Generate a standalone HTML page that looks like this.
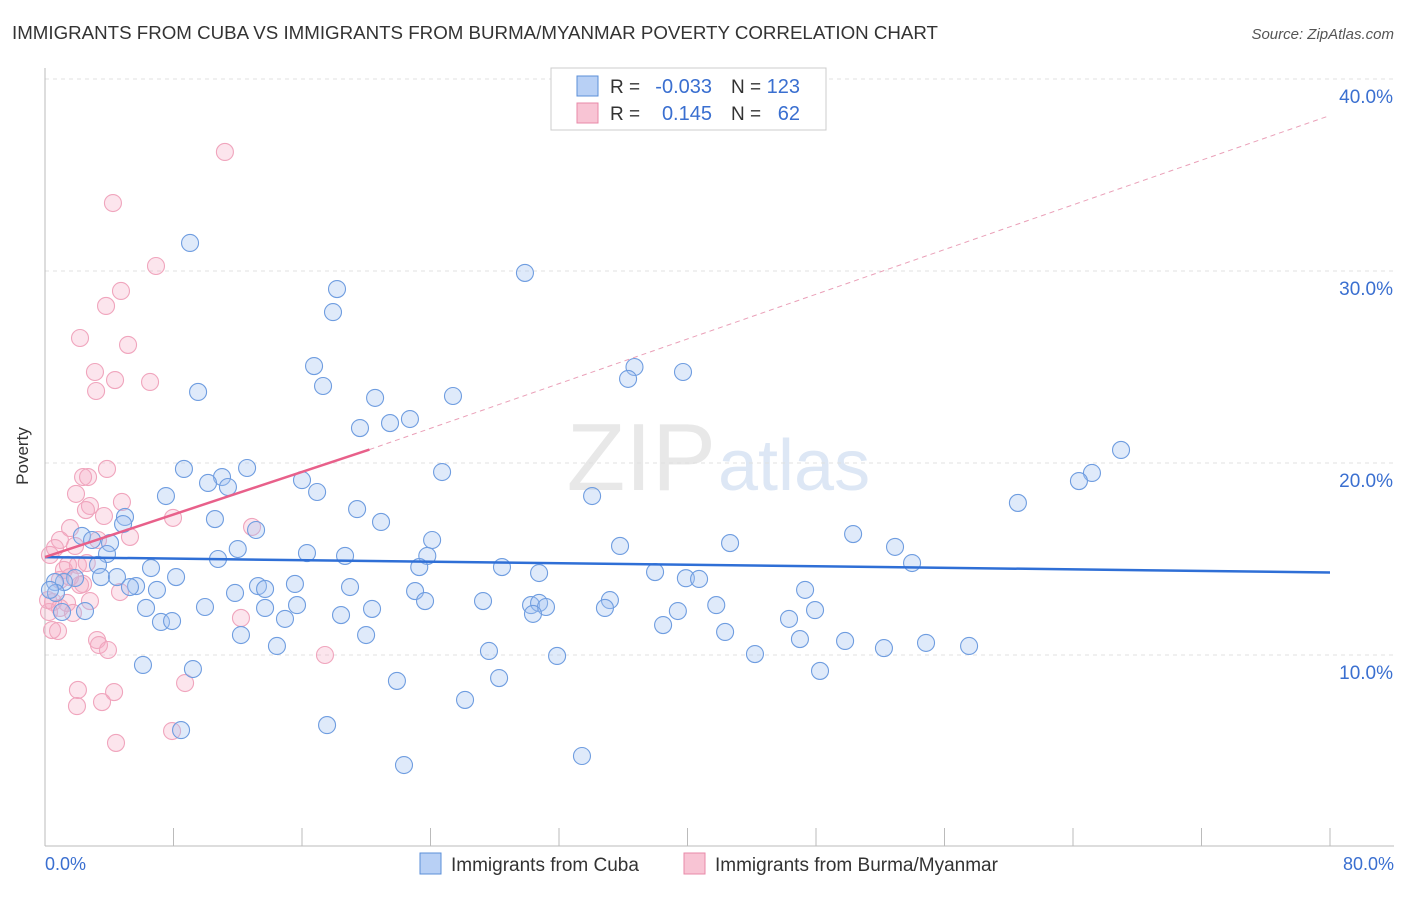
<!DOCTYPE html>
<html><head><meta charset="utf-8"><style>
body{margin:0;background:#fff;font-family:"Liberation Sans",sans-serif;}
svg text{font-family:"Liberation Sans",sans-serif;}
</style></head><body>
<svg width="1406" height="892">
<text x="12" y="39" font-size="18" fill="#333" textLength="926" lengthAdjust="spacingAndGlyphs">IMMIGRANTS FROM CUBA VS IMMIGRANTS FROM BURMA/MYANMAR POVERTY CORRELATION CHART</text>
<text x="1394" y="39" font-size="15" fill="#555" font-style="italic" text-anchor="end">Source: ZipAtlas.com</text>
<text x="716" y="490" font-size="96" fill="#e8e8e8" text-anchor="end" font-family="Liberation Serif">ZIP</text>
<text x="718" y="490" font-size="72" fill="#dde7f5">atlas</text>
<g id="grid"></g>
<g id="axes"></g>
<g id="pts"></g>
<g id="lines"></g>
<text x="28" y="456" font-size="17" fill="#333" transform="rotate(-90 28 456)" text-anchor="middle">Poverty</text>
<text x="45" y="870" font-size="18" fill="#3a6fd0">0.0%</text>
<text x="1394" y="870" font-size="18" fill="#3a6fd0" text-anchor="end">80.0%</text>
<g>
<rect x="551" y="68" width="275" height="62" fill="#fff" stroke="#ccc"/>
<rect x="577" y="76" width="21" height="20" fill="#b8d0f5" stroke="#5b8fd8"/>
<rect x="577" y="103" width="21" height="20" fill="#f8c4d4" stroke="#e88aa8"/>
<text x="610" y="93" font-size="19" fill="#333">R =</text>
<text x="712" y="93" font-size="20" fill="#3a6fd0" text-anchor="end">-0.033</text>
<text x="731" y="93" font-size="19" fill="#333">N =</text>
<text x="800" y="93" font-size="20" fill="#3a6fd0" text-anchor="end">123</text>
<text x="610" y="120" font-size="19" fill="#333">R =</text>
<text x="712" y="120" font-size="20" fill="#3a6fd0" text-anchor="end">0.145</text>
<text x="731" y="120" font-size="19" fill="#333">N =</text>
<text x="800" y="120" font-size="20" fill="#3a6fd0" text-anchor="end">62</text>
</g>
<g>
<rect x="420" y="853" width="21" height="21" fill="#b8d0f5" stroke="#5b8fd8"/>
<text x="451" y="871" font-size="19" fill="#333">Immigrants from Cuba</text>
<rect x="684" y="853" width="21" height="21" fill="#f8c4d4" stroke="#e88aa8"/>
<text x="715" y="871" font-size="19" fill="#333">Immigrants from Burma/Myanmar</text>
</g>
</svg>
<script>
const yTicks=[10,20,30,40];
const yTickLabels=["10.0%","20.0%","30.0%","40.0%"];
const xTicks=[0,8,16,24,32,40,48,56,64,72,80];
const cubaPts=[[9.03,31.46],[29.88,29.9],[18.18,29.06],[17.93,27.86],[16.75,25.05],[17.31,24.01],[36.7,25.0],[36.3,24.38],[39.72,24.74],[9.53,23.7],[20.55,23.39],[25.4,23.49],[22.72,22.29],[21.48,22.08],[19.61,21.82],[66.99,20.68],[65.18,19.48],[64.37,19.06],[60.57,17.92],[8.65,19.69],[12.58,19.74],[11.02,19.27],[10.15,18.96],[11.39,18.75],[16.0,19.11],[16.94,18.49],[24.72,19.53],[7.53,18.28],[34.06,18.28],[19.43,17.6],[20.92,16.93],[10.58,17.08],[4.98,17.19],[4.86,16.82],[13.14,16.51],[50.31,16.3],[52.92,15.63],[42.65,15.83],[35.8,15.68],[24.1,15.99],[12.0,15.52],[16.31,15.31],[18.68,15.16],[23.8,15.16],[2.3,16.2],[2.93,15.99],[4.05,15.83],[3.86,15.26],[3.3,14.69],[10.77,15.0],[23.3,14.58],[28.45,14.58],[30.76,14.27],[37.98,14.32],[39.9,14.0],[40.72,13.96],[53.98,14.79],[6.6,14.53],[8.16,14.06],[3.49,14.06],[4.48,14.06],[1.87,14.01],[1.18,13.8],[0.62,13.8],[5.67,13.59],[5.29,13.54],[6.97,13.39],[13.26,13.59],[13.7,13.44],[15.56,13.7],[18.99,13.54],[11.83,13.23],[23.04,13.33],[47.32,13.39],[0.68,13.23],[0.31,13.39],[23.66,12.81],[27.27,12.81],[30.26,12.6],[30.76,12.71],[31.19,12.5],[35.17,12.86],[34.86,12.45],[41.79,12.6],[47.94,12.34],[6.29,12.45],[9.96,12.5],[13.7,12.45],[15.69,12.6],[20.36,12.4],[39.4,12.29],[30.38,12.14],[46.32,11.88],[2.49,12.29],[1.06,12.24],[7.22,11.72],[7.91,11.77],[14.94,11.88],[18.43,12.08],[38.48,11.56],[42.34,11.2],[12.2,11.04],[19.99,11.04],[47.0,10.83],[49.81,10.73],[54.85,10.63],[57.53,10.47],[14.44,10.47],[52.23,10.36],[27.64,10.21],[44.2,10.05],[31.88,9.95],[6.1,9.48],[9.21,9.27],[48.25,9.17],[28.27,8.8],[21.91,8.65],[26.15,7.66],[17.56,6.35],[8.47,6.09],[22.35,4.27],[33.43,4.74]];
const burmaPts=[[11.2,36.2],[4.23,33.54],[6.91,30.26],[4.73,28.96],[3.8,28.18],[2.18,26.51],[5.17,26.15],[3.11,24.74],[4.36,24.32],[6.54,24.22],[3.18,23.75],[3.86,19.69],[2.37,19.27],[2.68,19.27],[1.93,18.39],[2.8,17.76],[4.79,17.97],[2.55,17.55],[3.67,17.24],[7.97,17.14],[12.89,16.67],[1.56,16.61],[5.29,16.15],[3.3,15.99],[0.93,15.99],[0.62,15.57],[1.87,15.68],[0.31,15.21],[1.43,14.69],[1.18,14.43],[2.05,14.69],[2.6,14.79],[1.56,14.06],[0.93,13.91],[2.37,13.7],[4.67,13.28],[0.19,12.86],[2.8,12.81],[0.5,12.76],[1.37,12.71],[0.93,12.45],[1.74,12.19],[0.25,12.24],[12.2,11.93],[0.44,11.3],[0.81,11.25],[3.24,10.78],[3.36,10.52],[3.92,10.26],[17.43,10.0],[8.72,8.54],[2.05,8.18],[4.3,8.07],[3.55,7.55],[1.99,7.34],[7.91,6.04],[4.42,5.42],[2.18,13.65]];
const cubaTrend=[[0,15.1],[80,14.3]];
const burmaTrendSolid=[[0,15.1],[20.2,20.7]];
const burmaTrendDash=[[20.2,20.7],[80,38.1]];

const NS="http://www.w3.org/2000/svg";
const X=v=>45+v*(1285/80);
const Y=v=>847-v*19.2;
function mk(t,a,p){const e=document.createElementNS(NS,t);for(const k in a)e.setAttribute(k,a[k]);p.appendChild(e);return e;}
const grid=document.getElementById('grid');
yTicks.forEach((t,i)=>{
  const l=mk('line',{x1:45,x2:1394,y1:Y(t),y2:Y(t),stroke:'#e0e0e0','stroke-dasharray':'4,4'},grid);
  
  
  const tx=mk('text',{x:1393,y:Y(t)+24,'font-size':19,fill:'#3a6fd0','text-anchor':'end'},grid);
  tx.textContent=yTickLabels[i];
  
  
});
const ax=document.getElementById('axes');
const yl=mk('line',{x1:45,x2:45,y1:68,y2:846,stroke:'#bbb'},ax);


const xl=mk('line',{x1:45,x2:1394,y1:846,y2:846,stroke:'#bbb'},ax);


xTicks.forEach(t=>{
  const l=mk('line',{x1:X(t),x2:X(t),y1:828,y2:846,stroke:'#bbb'},ax);
  
  
});
const pts=document.getElementById('pts');
burmaPts.forEach(p=>{
  const c=mk('circle',{cx:X(p[0]),cy:Y(p[1]),r:8.5,fill:'rgba(245,170,195,0.3)',stroke:'#f0a5bd','stroke-width':1.1},pts);
  
  
});
cubaPts.forEach(p=>{
  const c=mk('circle',{cx:X(p[0]),cy:Y(p[1]),r:8.5,fill:'rgba(164,196,240,0.35)',stroke:'#6f9de0','stroke-width':1.1},pts);
  
  
});
const ln=document.getElementById('lines');
const a=mk('line',{x1:X(cubaTrend[0][0]),y1:Y(cubaTrend[0][1]),x2:X(cubaTrend[1][0]),y2:Y(cubaTrend[1][1]),stroke:'#2f6fd6','stroke-width':2.5},ln);


const b=mk('line',{x1:X(burmaTrendSolid[0][0]),y1:Y(burmaTrendSolid[0][1]),x2:X(burmaTrendSolid[1][0]),y2:Y(burmaTrendSolid[1][1]),stroke:'#e8608a','stroke-width':2.5},ln);


const d=mk('line',{x1:X(burmaTrendDash[0][0]),y1:Y(burmaTrendDash[0][1]),x2:X(burmaTrendDash[1][0]),y2:Y(burmaTrendDash[1][1]),stroke:'#eaa0b8','stroke-width':1,'stroke-dasharray':'5,4'},ln);


</script>
</body></html>
